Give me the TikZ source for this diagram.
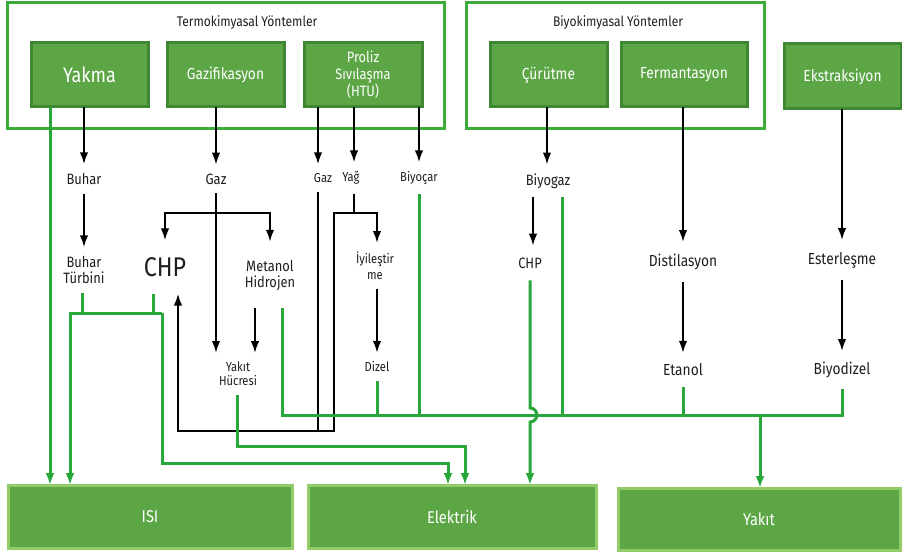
\documentclass[tikz,border=0pt]{standalone}
\usepackage{fontspec}
\setmainfont{Fira Sans}[FakeStretch=0.86]
\usetikzlibrary{arrows.meta}
\definecolor{framegreen}{RGB}{58,172,55}
\definecolor{boxfill}{RGB}{92,166,70}
\definecolor{boxedge}{RGB}{62,136,52}
\definecolor{outedge}{RGB}{146,204,104}
\definecolor{flowgreen}{RGB}{40,168,58}
\definecolor{labelgray}{RGB}{30,30,30}
\newcommand{\fsz}[2]{\fontsize{#1}{#2}\selectfont}

\begin{document}
\begin{tikzpicture}[x=1pt, y=-1pt,
    frame/.style={draw=framegreen, line width=3pt},
    method/.style={draw=boxedge, fill=boxfill, line width=3pt, outer sep=0pt,
      minimum width=117pt, minimum height=64pt, text=white, align=center},
    product/.style={draw=outedge, fill=boxfill, line width=3pt, outer sep=0pt,
      minimum height=63pt, text=white, font=\fsz{17}{20}},
    lbl/.style={inner sep=0pt, outer sep=9pt, text=labelgray, align=center,
      font=\fsz{15}{16}},
    blk/.style={line width=2pt, -{Latex[length=12pt,width=8.5pt]}},
    blkline/.style={line width=2pt},
    grn/.style={draw=flowgreen, line width=3pt, -{Latex[length=12pt,width=9pt]}},
    grnline/.style={draw=flowgreen, line width=3pt}]
  \useasboundingbox (0,0) rectangle (902,553);

  % termokimyasal group
  \draw[frame] (7,3) rectangle (444,129);
  \node[lbl, outer sep=0pt, font=\fsz{14}{16}] (termo) at (247,23) {Termokimyasal Yöntemler};
  \node[method, font=\fsz{21}{24}] (yakma) at (89.5,75) {Yakma};
  \node[method, font=\fsz{16}{18}] (gazi) at (225.5,75) {Gazifikasyon};
  \node[method, font=\fsz{15}{17}, minimum width=118pt] (proliz) at (363,75) {Proliz\\Sıvılaşma\\(HTU)};

  % biyokimyasal group
  \draw[frame] (466,3) rectangle (764,129);
  \node[lbl, outer sep=0pt, font=\fsz{14}{16}] (biyo) at (618,23) {Biyokimyasal Yöntemler};
  \node[method, font=\fsz{16}{18}] (curutme) at (548.5,75) {Çürütme};
  \node[method, font=\fsz{16}{18}, minimum width=126pt] (ferm) at (684,75) {Fermantasyon};
  \node[method, font=\fsz{16}{18}, minimum height=65pt] (ekstr) at (842.5,76.5) {Ekstraksiyon};

  % products
  \node[product, minimum width=284pt] (isi) at (150,516.5) {ISI};
  \node[product, minimum width=288pt] (elek) at (452,516.5) {Elektrik};
  \node[product, minimum width=282pt, minimum height=62pt] (yakit) at (759,519) {Yakıt};

  % intermediate labels
  \node[lbl] (buhar) at (84,179) {Buhar};
  \node[lbl] (turbini) at (84,270) {Buhar\\Türbini};
  \node[lbl, font=\fsz{27}{30}, outer ysep=17pt] (chpL) at (165,267) {CHP};
  \node[lbl] (gazA) at (216,179) {Gaz};
  \node[lbl, outer ysep=18pt] (metanol) at (270,275) {Metanol\\Hidrojen};
  \node[lbl, font=\fsz{13}{14}] (hucre) at (238,374) {Yakıt\\Hücresi};
  \node[lbl, font=\fsz{13}{15}] (gazB) at (323,178) {Gaz};
  \node[lbl, font=\fsz{13}{15}] (yag) at (351,178) {Yağ};
  \node[lbl, font=\fsz{13}{15}] (biyocar) at (419,178) {Biyoçar};
  \node[lbl, font=\fsz{13}{16}] (iyi) at (375,266) {İyileştir\\me};
  \node[lbl, font=\fsz{13}{15}] (dizel) at (377,367) {Dizel};
  \node[lbl] (biyogaz) at (548,181) {Biyogaz};
  \node[lbl, outer ysep=12pt] (chpR) at (530,263) {CHP};
  \node[lbl, font=\fsz{16}{18}, outer ysep=12pt] (distil) at (683,262) {Distilasyon};
  \node[lbl, font=\fsz{16}{18}, outer ysep=11pt] (etanol) at (683,370) {Etanol};
  \node[lbl, font=\fsz{16}{18}, outer ysep=12pt] (ester) at (842,260) {Esterleşme};
  \node[lbl, font=\fsz{16}{18}, outer ysep=11pt] (biyodizel) at (842,370) {Biyodizel};

  % junctions
  \coordinate (gazsplit) at (216,213);
  \coordinate (yagsplit) at (354,213);
  \coordinate (loopR) at (334,431);
  \coordinate (loopL) at (178,431);
  \coordinate (heatjoin) at (70,313);
  \coordinate (elecjoin) at (162,313);
  \coordinate (elecbend) at (448,463);
  \coordinate (cellbend) at (465,446);
  \coordinate (busL) at (282,415);
  \coordinate (busR) at (842,415);
  \coordinate (hopT) at (530,408);
  \coordinate (hopB) at (530,422);

  % black flows
  \draw[blk] (yakma.south -| buhar) -- (buhar);
  \draw[blk] (buhar) -- (turbini);
  \draw[blk] (gazi.south -| gazA) -- (gazA);
  \draw[blk] (gazA) -- (gazA |- hucre.north);
  \draw[blk] (gazsplit) -| (chpL);
  \draw[blk] (gazsplit) -| (metanol);
  \draw[blk] (metanol.south -| 255,0) -- (hucre.north -| 255,0);
  \draw[blk] (proliz.south -| 318,0) -- (gazB.north -| 318,0);
  \draw[blkline] (gazB.south -| 318,0) -- (loopR -| 318,0);
  \draw[blk] (proliz.south -| yagsplit) -- (yag.north -| yagsplit);
  \draw[blk] (yag.south -| yagsplit) -- (yagsplit) -| (loopR) -- (loopL) -- (chpL.south -| loopL);
  \draw[blk] (yagsplit) -| (iyi.north -| dizel);
  \draw[blk] (iyi.south -| dizel) -- (dizel);
  \draw[blk] (proliz.south -| biyocar) -- (biyocar);
  \draw[blk] (curutme.south -| 547,0) -- (biyogaz.north -| 547,0);
  \draw[blk] (biyogaz.south -| 533,0) -- (chpR.north -| 533,0);
  \draw[blk] (ferm.south -| distil) -- (distil);
  \draw[blk] (distil) -- (etanol);
  \draw[blk] (ekstr.south -| ester) -- (ester);
  \draw[blk] (ester) -- (biyodizel);

  % green flows
  \draw[grn] (yakma.south -| 50,0) -- (isi.north -| 50,0);
  \draw[grnline] (turbini.south -| 82,0) -- (heatjoin -| 82,0);
  \draw[grnline] (chpL.south -| 153,0) -- (elecjoin -| 153,0);
  \draw[grn] (elecjoin) -- (heatjoin) -- (heatjoin |- isi.north);
  \draw[grn] (elecjoin) |- (elecbend) -- (elecbend |- elek.north);
  \draw[grn] (hucre.south -| 237,0) |- (cellbend) -- (cellbend |- elek.north);
  \draw[grnline] (metanol.south -| busL) -- (busL) -- (busR) -- (biyodizel);
  \draw[grnline] (biyocar) -- (biyocar |- busL);
  \draw[grnline] (dizel) -- (dizel |- busL);
  \draw[grnline] (biyogaz.south -| 562,0) -- (busL -| 562,0);
  \draw[grnline] (etanol) -- (etanol |- busL);
  \draw[grn] (busL -| 760,0) -- (yakit.north -| 760,0);
  \draw[grn] (chpR) -- (hopT) .. controls (539,408) and (539,422) .. (hopB) -- (hopB |- elek.north);
\end{tikzpicture}
\end{document}
